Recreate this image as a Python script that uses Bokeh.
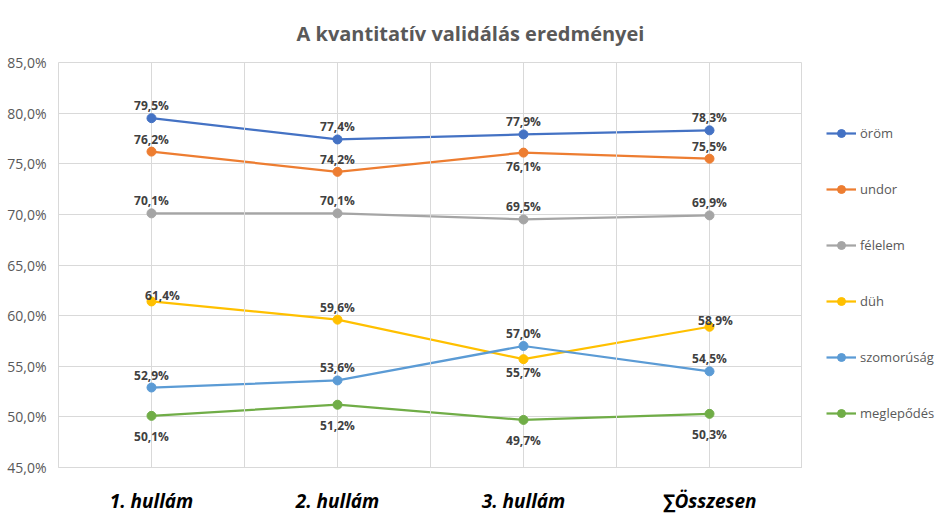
from bokeh.plotting import figure
from bokeh.layouts import row
from bokeh.models import (FactorRange, Range1d, FixedTicker, CustomJSTickFormatter,
                          Legend, LegendItem, Span, ColumnDataSource)
from bokeh.core.properties import value
from bokeh.embed import file_html
from bokeh.resources import INLINE

categories = ["1. hullám", "2. hullám", "3. hullám", "∑Összesen"]
series_names = ["öröm", "undor", "félelem", "düh", "szomorúság", "meglepődés"]
orom = [79.5, 77.4, 77.9, 78.3]
undor = [76.2, 74.2, 76.1, 75.5]
felelem = [70.1, 70.1, 69.5, 69.9]
duh = [61.4, 59.6, 55.7, 58.9]
szomorusag = [52.9, 53.6, 57.0, 54.5]
meglepodes = [50.1, 51.2, 49.7, 50.3]
y_ticks = [45, 50, 55, 60, 65, 70, 75, 80, 85]

series_values = [orom, undor, felelem, duh, szomorusag, meglepodes]
colors = ["#4472C4", "#ED7D31", "#A5A5A5", "#FFC000", "#5B9BD5", "#70AD47"]

# label placement styles: (dx, dy, baseline)
STYLE = {
    "a": (0, -4, "bottom"),   # above
    "b": (0, 5, "top"),       # below
    "B": (0, 12, "top"),      # further below
    "n1": (11, 3, "bottom"),  # near, right
    "n2": (6, 2, "bottom"),
}
placements = [
    ["a", "a", "a", "a"],
    ["a", "a", "b", "a"],
    ["a", "a", "a", "a"],
    ["n1", "a", "b", "n2"],
    ["a", "a", "a", "a"],
    ["B", "B", "B", "B"],
]

FONT = "Open Sans"

p = figure(width=802, height=516, x_range=FactorRange(*categories),
           y_range=Range1d(45, 85), output_backend="svg", toolbar_location=None,
           min_border_left=58, min_border_bottom=47, min_border_top=62,
           min_border_right=0)

p.title.text = "A kvantitatív validálás eredményei"
p.title.text_font = FONT
p.title.text_font_size = "20px"
p.title.text_color = "#595959"
p.title.text_font_style = "bold"
p.title.align = "left"
p.title.offset = 238
p.title.standoff = 32

p.outline_line_color = "#D9D9D9"
p.background_fill_color = "white"
p.border_fill_color = "white"

p.ygrid.ticker = FixedTicker(ticks=y_ticks)
p.ygrid.grid_line_color = "#D9D9D9"
p.ygrid.grid_line_width = 1
p.xgrid.grid_line_color = "#D9D9D9"
p.xgrid.grid_line_width = 1

for loc in range(1, len(categories)):
    p.add_layout(Span(location=loc, dimension="height", line_color="#D9D9D9", line_width=1))

p.yaxis.ticker = FixedTicker(ticks=y_ticks)
p.yaxis.formatter = CustomJSTickFormatter(code="return tick.toFixed(1).replace('.', ',') + '%';")
p.yaxis.axis_line_color = None
p.yaxis.major_tick_line_color = None
p.yaxis.minor_tick_line_color = None
p.yaxis.major_label_text_font = FONT
p.yaxis.major_label_text_font_size = "14px"
p.yaxis.major_label_text_color = "#595959"
p.yaxis.major_label_standoff = 6

p.xaxis.axis_line_color = "#D9D9D9"
p.xaxis.major_tick_line_color = None
p.xaxis.minor_tick_line_color = None
p.xaxis.major_label_text_font = FONT
p.xaxis.major_label_text_font_size = "19px"
p.xaxis.major_label_text_font_style = "bold italic"
p.xaxis.major_label_text_color = "#000000"
p.xaxis.major_label_standoff = 14

# separate legend panel to the right (its proxy renderers lie outside its visible range)
lf = figure(width=138, height=516, x_range=FactorRange(*categories), y_range=Range1d(0, 1),
            output_backend="svg", toolbar_location=None, min_border=0)
lf.axis.visible = False
lf.grid.visible = False
lf.outline_line_color = None

items = []
for name, vals, col, plc in zip(series_names, series_values, colors, placements):
    src = ColumnDataSource(dict(
        x=categories, y=vals,
        lab=[f"{v:.1f}".replace(".", ",") + "%" for v in vals],
        xoff=[STYLE[q][0] for q in plc],
        yoff=[STYLE[q][1] for q in plc],
        base=[STYLE[q][2] for q in plc],
    ))
    p.line("x", "y", source=src, line_color=col, line_width=2.25)
    p.scatter("x", "y", source=src, size=9, fill_color=col, line_color=col)
    p.text("x", "y", text="lab", source=src, x_offset="xoff", y_offset="yoff",
           text_baseline="base", text_align="center", text_font=value(FONT),
           text_font_size="12px", text_font_style="bold", text_color="#404040")
    lln = lf.line("x", "y", source=src, line_color=col, line_width=2.25)
    lsc = lf.scatter("x", "y", source=src, size=9, fill_color=col, line_color=col)
    items.append(LegendItem(label=name, renderers=[lln, lsc]))

legend = Legend(items=items, orientation="vertical", spacing=36,
                label_text_font=FONT, label_text_font_size="13px",
                label_text_color="#595959", glyph_width=30, glyph_height=20,
                label_height=20, label_standoff=4, border_line_color=None,
                background_fill_alpha=0, margin=0, padding=0, location=(24, 44))
lf.add_layout(legend)

layout = row(p, lf, spacing=0)
open("out.html", "w").write(file_html(layout, INLINE))
